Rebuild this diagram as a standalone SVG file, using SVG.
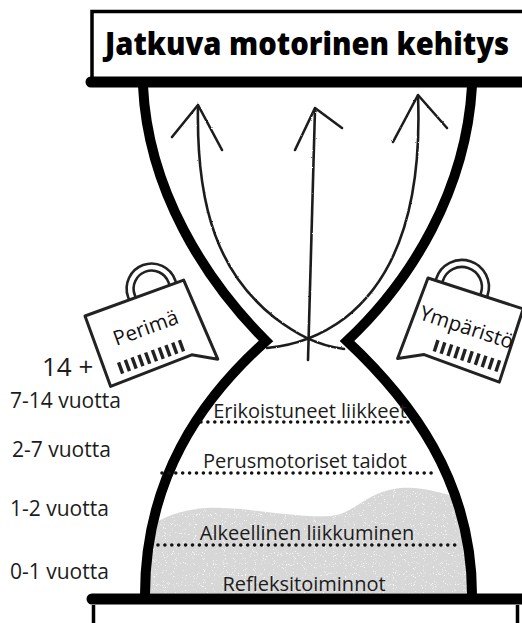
<svg xmlns="http://www.w3.org/2000/svg" width="522" height="623" viewBox="0 0 522 623">
  <style>
    .frame { fill: none; stroke: #000; stroke-width: 3.5; }
    .bar { fill: none; stroke: #000; stroke-width: 11; stroke-linecap: round; }
    .glass { fill: none; stroke: #000; stroke-width: 10; stroke-linejoin: miter; stroke-miterlimit: 10; }
    .sketch { fill: none; stroke: #1e1e1e; stroke-width: 2.6; stroke-linecap: round; stroke-linejoin: round; }
    .dots { fill: none; stroke: #111; stroke-width: 3.6; stroke-linecap: round; stroke-dasharray: 0 6.9; }
    .stage { font-family: "Open Sans", "DejaVu Sans", sans-serif; font-size: 20px; fill: #1c1c1c; text-anchor: middle; }
    .age { font-family: "Open Sans", "DejaVu Sans", sans-serif; font-size: 21px; fill: #1c1c1c; }
    .age.big { font-size: 26px; }
    .tag { fill: #fff; stroke: #222; stroke-width: 3; stroke-linejoin: round; }
    .handle { fill: none; stroke: #222; stroke-width: 2.6; }
    .tagtext { font-family: "Open Sans", "DejaVu Sans", sans-serif; font-size: 20.5px; fill: #111; text-anchor: middle; }
    .code { fill: #222; }
  </style>
  <defs>
    <clipPath id="lowerBulb">
      <path d="M262,342 C200,400 145,480 145,593 L472,593 C472,480 410,400 350,342 Z"/>
    </clipPath>
    <filter id="rough" x="-5%" y="-5%" width="110%" height="110%">
      <feTurbulence type="fractalNoise" baseFrequency="0.8" numOctaves="2" seed="3" result="n"/>
      <feDisplacementMap in="SourceGraphic" in2="n" scale="1.8" xChannelSelector="R" yChannelSelector="G"/>
    </filter>
    <!-- light speckles over the sand -->
    <filter id="grain" x="0" y="0" width="100%" height="100%">
      <feTurbulence type="fractalNoise" baseFrequency="1.1" numOctaves="1" seed="7" result="t"/>
      <feColorMatrix in="t" type="matrix" values="0 0 0 0 0.95  0 0 0 0 0.95  0 0 0 0 0.95  9 0 0 0 -5.6" result="specks"/>
      <feComposite in="specks" in2="SourceGraphic" operator="in" result="s2"/>
      <feMerge><feMergeNode in="SourceGraphic"/><feMergeNode in="s2"/></feMerge>
    </filter>
  </defs>

  <rect width="522" height="623" fill="#fff"/>

  <!-- title box -->
  <g id="title">
    <path class="frame" d="M92,80 V11.5 H524"/>
    <line class="bar" x1="91" y1="82" x2="530" y2="82"/>
    <text x="307" y="55" font-family="'Open Sans', 'DejaVu Sans', sans-serif" font-size="32" font-weight="800" fill="#000" text-anchor="middle" textLength="404" lengthAdjust="spacingAndGlyphs">Jatkuva motorinen kehitys</text>
  </g>

  <!-- sand in the lower bulb -->
  <g id="sand" clip-path="url(#lowerBulb)">
    <path fill="#d7d7d7" filter="url(#grain)" d="M135,540 C150,522 175,510 205,508 C245,506 290,518 330,516 C355,514 365,492 400,488 C425,486 445,495 470,500 L480,600 L130,600 Z"/>
  </g>

  <!-- base -->
  <g id="base">
    <path class="frame" d="M93.5,624 V605 M517.5,605 V624" stroke-width="3"/>
    <line class="bar" x1="92" y1="599" x2="530" y2="599" stroke-width="12"/>
  </g>

  <!-- hourglass outline -->
  <g id="hourglass">
    <path class="glass" d="M143,86 C148,190 205,280 266,341 C200,400 145,480 145,595"/>
    <path class="glass" d="M472,86 C466,190 412,280 347,341 C410,400 472,480 472,595"/>
  </g>

  <!-- upward arrows in the upper bulb -->
  <g id="connectors" filter="url(#rough)">
    <path class="sketch" d="M198,106 C196,210 220,275 275,318 C295,333 315,345 344,349"/>
    <path class="sketch" d="M172,137 L198,105 L222,150"/>
    <path class="sketch" d="M308,360 L315,109"/>
    <path class="sketch" d="M295,150 L315,108 L342,128"/>
    <path class="sketch" d="M418,96 C422,200 400,275 345,318 C325,333 300,345 267,348"/>
    <path class="sketch" d="M393,142 L418,95 L447,128"/>
  </g>

  <!-- developmental stages -->
  <g id="stages">
    <text class="stage" x="310" y="418">Erikoistuneet liikkeet</text>
    <line class="dots" x1="201" y1="422" x2="413" y2="422"/>
    <text class="stage" x="305" y="468">Perusmotoriset taidot</text>
    <line class="dots" x1="162" y1="473" x2="437" y2="473"/>
    <text class="stage" x="307" y="540">Alkeellinen liikkuminen</text>
    <line class="dots" x1="158" y1="545" x2="461" y2="545"/>
    <text class="stage" x="304" y="591">Refleksitoiminnot</text>
  </g>

  <!-- age scale -->
  <g id="ages">
    <text class="age big" x="42" y="376">14 +</text>
    <text class="age" x="10" y="408">7-14 vuotta</text>
    <text class="age" x="12" y="457">2-7 vuotta</text>
    <text class="age" x="10" y="516">1-2 vuotta</text>
    <text class="age" x="10" y="579">0-1 vuotta</text>
  </g>

  <!-- heredity tag -->
  <g id="bag-perima" transform="translate(85,316) rotate(-20)">
    <path class="handle" d="M47,0 V-3 A25,25 0 0 1 97,-3 V0"/>
    <path class="handle" d="M54,0 V-3 A18,18 0 0 1 90,-3 V0"/>
    <path class="tag" d="M0,0 L105,0 L110,86 L87,73 L0,75 Z"/>
    <text class="tagtext" x="53" y="39">Perimä</text>
    <g class="code">
      <rect x="14" y="55" width="3.4" height="12"/><rect x="21.2" y="55" width="3.4" height="12"/>
      <rect x="28.4" y="55" width="3.4" height="12"/><rect x="35.6" y="55" width="3.4" height="12"/>
      <rect x="42.8" y="55" width="3.4" height="12"/><rect x="50" y="55" width="3.4" height="12"/>
      <rect x="57.2" y="55" width="3.4" height="12"/><rect x="64.4" y="55" width="3.4" height="12"/>
      <rect x="71.6" y="55" width="3.4" height="12"/><rect x="78.8" y="55" width="3.4" height="12"/>
    </g>
  </g>

  <!-- environment tag -->
  <g id="bag-ymparisto" transform="translate(428,278) rotate(18)">
    <path class="handle" d="M8,0 V-2 A27,27 0 0 1 62,-2 V0"/>
    <path class="handle" d="M15,0 V-2 A20,20 0 0 1 55,-2 V0"/>
    <path class="tag" d="M0,0 L100,0 L100,77 L20,74 L-4,86 Z"/>
    <text class="tagtext" x="52" y="42">Ympäristö</text>
    <g class="code">
      <rect x="27" y="56" width="3.4" height="12"/><rect x="34.2" y="56" width="3.4" height="12"/>
      <rect x="41.4" y="56" width="3.4" height="12"/><rect x="48.6" y="56" width="3.4" height="12"/>
      <rect x="55.8" y="56" width="3.4" height="12"/><rect x="63" y="56" width="3.4" height="12"/>
      <rect x="70.2" y="56" width="3.4" height="12"/><rect x="77.4" y="56" width="3.4" height="12"/>
      <rect x="84.6" y="56" width="3.4" height="12"/><rect x="91.8" y="56" width="3.4" height="12"/>
    </g>
  </g>
</svg>
